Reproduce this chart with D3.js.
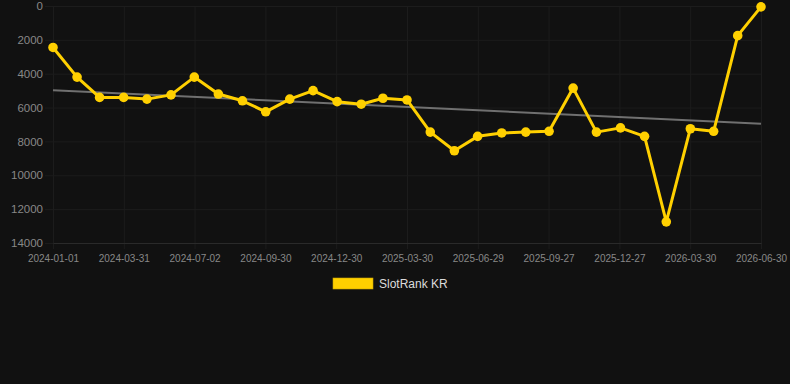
<!DOCTYPE html>
<html>
<head>
<meta charset="utf-8">
<script src="https://cdn.jsdelivr.net/npm/d3@7"></script>
<style>
  html, body { margin: 0; padding: 0; background: #111111; }
  #main { width: 790px; height: 384px; }
  text { font-family: "Liberation Sans", Arial, sans-serif; }
</style>
</head>
<body>
<div id="main"></div>
<script>
// monthly sample dates (categories)
const dates = [
  "2024-01-01", "2024-02-01", "2024-03-01", "2024-04-01", "2024-05-01", "2024-06-01",
  "2024-07-01", "2024-08-01", "2024-09-01", "2024-10-01", "2024-11-01", "2024-12-01",
  "2025-01-01", "2025-02-01", "2025-03-01", "2025-04-01", "2025-05-01", "2025-06-01",
  "2025-07-01", "2025-08-01", "2025-09-01", "2025-10-01", "2025-11-01", "2025-12-01",
  "2026-01-01", "2026-02-01", "2026-03-01", "2026-04-01", "2026-05-01", "2026-06-01",
  "2026-07-01"
];

// SlotRank KR values
const ranks = [
  2450, 4200, 5400, 5400, 5500, 5250, 4200, 5200, 5600, 6250,
  5500, 5000, 5650, 5800, 5450, 5550, 7450, 8550, 7700, 7500,
  7450, 7400, 4850, 7450, 7200, 7700, 12750, 7250, 7400, 1750,
  50
];

// trend line end points
const trendDates = ["2024-01-01", "2026-07-01"];
const trendValues = [4980, 6950];

const yTicks = [0, 2000, 4000, 6000, 8000, 10000, 12000, 14000];
const xTickLabels = [
  "2024-01-01", "2024-03-31", "2024-07-02", "2024-09-30", "2024-12-30", "2025-03-30",
  "2025-06-29", "2025-09-27", "2025-12-27", "2026-03-30", "2026-06-30"
];
const seriesName = "SlotRank KR";

width = 790;
height = 384;
margin = ({ top: 6, right: 29, bottom: 141, left: 53 });

const parse = d3.utcParse("%Y-%m-%d");

x = d3.scaleUtc()
    .domain([parse(dates[0]), parse(dates[dates.length - 1])])
    .range([margin.left, width - margin.right]);

y = d3.scaleLinear()
    .domain([0, 14000])
    .range([margin.top, height - margin.bottom]);

// ticks spread evenly across the time span
const tickTimes = xTickLabels.map((_, i) => d3.interpolateDate(x.domain()[0], x.domain()[1])(i / (xTickLabels.length - 1)));

const gridColor = "#1c1c1c";

xGrid = g => g
    .attr("transform", `translate(0,${height - margin.bottom})`)
    .call(d3.axisBottom(x).tickValues(tickTimes).tickSizeInner(-(height - margin.bottom - margin.top)).tickSizeOuter(0).tickFormat(""))
    .call(g => g.select(".domain").remove())
    .call(g => g.selectAll(".tick line").attr("stroke", gridColor).attr("y2", 6 ).attr("y1", -(height - margin.bottom - margin.top)));

yGrid = g => g
    .attr("transform", `translate(${margin.left},0)`)
    .call(d3.axisLeft(y).tickValues(yTicks).tickSizeInner(-(width - margin.left - margin.right)).tickSizeOuter(0).tickFormat(""))
    .call(g => g.select(".domain").remove())
    .call(g => g.selectAll(".tick line").attr("stroke", gridColor).attr("x1", -8));

xAxis = g => g
    .attr("transform", `translate(0,${height - margin.bottom})`)
    .call(d3.axisBottom(x).tickValues(tickTimes).tickSize(0).tickPadding(12).tickFormat((d, i) => xTickLabels[i]))
    .call(g => g.select(".domain").attr("stroke", "#2a2a2a"))
    .call(g => g.selectAll(".tick text")
        .attr("fill", "#888888")
        .attr("font-size", "10px")
        .attr("font-family", "Liberation Sans, Arial, sans-serif"));

yAxis = g => g
    .attr("transform", `translate(${margin.left},0)`)
    .call(d3.axisLeft(y).tickValues(yTicks).tickSize(0).tickPadding(10).tickFormat(d3.format("d")))
    .call(g => g.select(".domain").remove())
    .call(g => g.selectAll(".tick text")
        .attr("fill", "#888888")
        .attr("font-size", "11.5px")
        .attr("font-family", "Liberation Sans, Arial, sans-serif"));

function chart() {

    const svg = d3.create("svg")
        .attr("width", width)
        .attr("height", height)
        .attr("viewBox", [0, 0, width, height])
        .style("background", "#111111");

    svg.append("g").call(xGrid);
    svg.append("g").call(yGrid);
    svg.append("g").call(xAxis);
    svg.append("g").call(yAxis);

    // trend
    svg.append("path")
        .datum(trendDates.map((d, i) => [parse(d), trendValues[i]]))
        .attr("fill", "none")
        .attr("stroke", "#707070")
        .attr("stroke-width", 2)
        .attr("d", d3.line().x(d => x(d[0])).y(d => y(d[1])));

    const points = dates.map((d, i) => ({ date: parse(d), value: ranks[i] }));

    svg.append("path")
        .datum(points)
        .attr("fill", "none")
        .attr("stroke", "#ffd000")
        .attr("stroke-width", 3)
        .attr("stroke-linejoin", "round")
        .attr("d", d3.line().x(d => x(d.date)).y(d => y(d.value)));

    svg.append("g")
        .attr("fill", "#ffd000")
        .selectAll("circle")
        .data(points)
        .join("circle")
        .attr("cx", d => x(d.date))
        .attr("cy", d => y(d.value))
        .attr("r", 4.8);

    // legend
    const legend = svg.append("g")
        .attr("transform", "translate(333,278)");

    legend.append("rect")
        .attr("width", 40)
        .attr("height", 11)
        .attr("fill", "#ffd000")
        .attr("stroke", "#c9a400")
        .attr("stroke-width", 0.6);

    legend.append("text")
        .attr("x", 46)
        .attr("y", 6)
        .attr("dy", "0.35em")
        .attr("fill", "#dcdcdc")
        .attr("font-size", "12px")
        .text(seriesName);

    return svg.node();
}

d3.select("#main").append(() => chart());
</script>
</body>
</html>
